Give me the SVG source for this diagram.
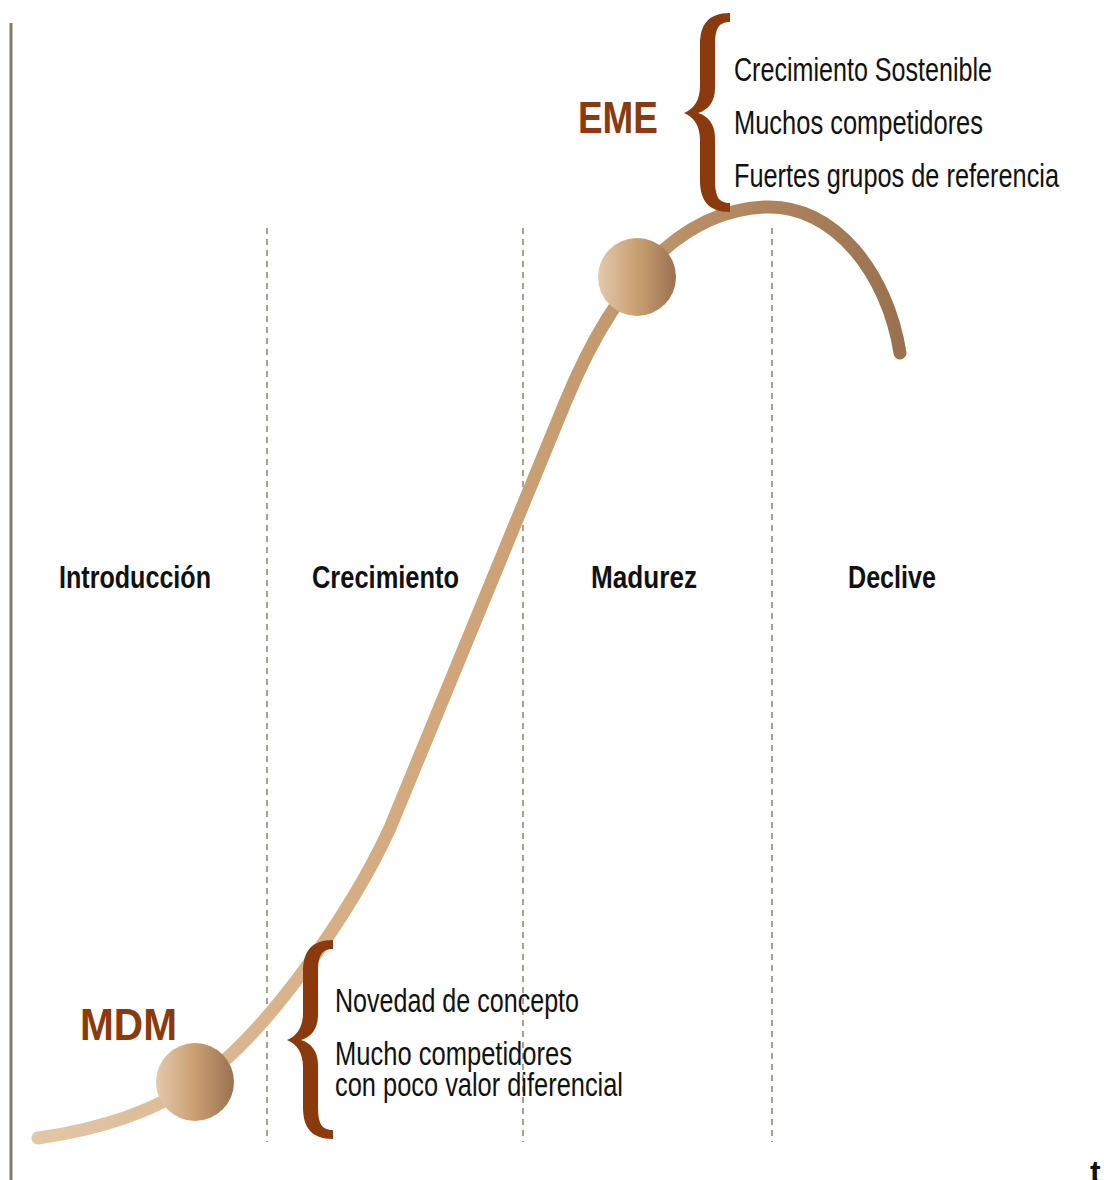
<svg xmlns="http://www.w3.org/2000/svg" width="1104" height="1180" viewBox="0 0 1104 1180">
<defs>
<linearGradient id="curveGrad" gradientUnits="userSpaceOnUse" x1="30" y1="0" x2="910" y2="0">
<stop offset="0" stop-color="#e2c7a8"/>
<stop offset="0.45" stop-color="#d2a87c"/>
<stop offset="0.7" stop-color="#bf956a"/>
<stop offset="1" stop-color="#98704f"/>
</linearGradient>
<linearGradient id="nodeGrad" x1="0" y1="0" x2="1" y2="0">
<stop offset="0" stop-color="#e4c9ab"/>
<stop offset="0.5" stop-color="#c99f71"/>
<stop offset="1" stop-color="#9a7252"/>
</linearGradient>
<path id="brace" d="M730,13 L730,22 C719,22 715,28 715,45 L715,88 C715,102 708,110 698,113 C708,116 715,124 715,138 L715,180 C715,197 719,203 730,203 L730,212 C708,212 700,200 700,180 L700,140 C700,126 694,117 684,113 C694,109 700,100 700,86 L700,45 C700,25 708,13 730,13 Z"/>
</defs>
<style>
.dash{stroke:#8a8272;stroke-width:1.5;stroke-dasharray:6 5;fill:none}
.stage{font-family:"Liberation Sans Narrow","Liberation Sans",Arial,sans-serif;font-weight:bold;font-size:32px;fill:#111}
.item{font-family:"Liberation Sans Narrow","Liberation Sans",Arial,sans-serif;font-size:33px;fill:#111}
.big{font-family:"Liberation Sans Narrow","Liberation Sans",Arial,sans-serif;font-weight:bold;font-size:44px;fill:#8a3a0c}
.brace{fill:#8a3a0c}
</style>
<rect width="1104" height="1180" fill="#ffffff"/>
<line x1="11" y1="23" x2="11" y2="1180" stroke="#857a68" stroke-width="3"/>
<g id="dividers">
<line class="dash" x1="267" y1="228" x2="267" y2="1142"/>
<line class="dash" x1="523" y1="228" x2="523" y2="1142"/>
<line class="dash" x1="772" y1="228" x2="772" y2="1142"/>
</g>
<g id="connectors">
<path d="M38,1138 C110,1128 160,1108 200,1080 C265,1035 350,915 390,828 L565,403 C595,330 655,212 765,207 C835,204 888,275 900,353" fill="none" stroke="url(#curveGrad)" stroke-width="13" stroke-linecap="round"/>
</g>
<g id="stages">
<text class="stage" x="59" y="588" textLength="152" lengthAdjust="spacingAndGlyphs">Introducción</text>
<text class="stage" x="312" y="588" textLength="147" lengthAdjust="spacingAndGlyphs">Crecimiento</text>
<text class="stage" x="591" y="588" textLength="106" lengthAdjust="spacingAndGlyphs">Madurez</text>
<text class="stage" x="848" y="588" textLength="88" lengthAdjust="spacingAndGlyphs">Declive</text>
</g>
<g id="node-mdm">
<circle cx="195" cy="1082" r="39" fill="url(#nodeGrad)"/>
<text class="big" x="80" y="1040" textLength="97" lengthAdjust="spacingAndGlyphs">MDM</text>
<use href="#brace" class="brace" transform="translate(-397,927)"/>
<text class="item" x="335" y="1012" textLength="244" lengthAdjust="spacingAndGlyphs">Novedad de concepto</text>
<text class="item" x="335" y="1065" textLength="237" lengthAdjust="spacingAndGlyphs">Mucho competidores</text>
<text class="item" x="335" y="1096" textLength="288" lengthAdjust="spacingAndGlyphs">con poco valor diferencial</text>
</g>
<g id="node-eme">
<circle cx="637" cy="277" r="39" fill="url(#nodeGrad)"/>
<text class="big" x="578" y="133" textLength="80" lengthAdjust="spacingAndGlyphs">EME</text>
<use href="#brace" class="brace"/>
<text class="item" x="734" y="81" textLength="258" lengthAdjust="spacingAndGlyphs">Crecimiento Sostenible</text>
<text class="item" x="734" y="134" textLength="249" lengthAdjust="spacingAndGlyphs">Muchos competidores</text>
<text class="item" x="734" y="187" textLength="325" lengthAdjust="spacingAndGlyphs">Fuertes grupos de referencia</text>
</g>
<text class="stage" x="1090" y="1183">t</text>
</svg>
